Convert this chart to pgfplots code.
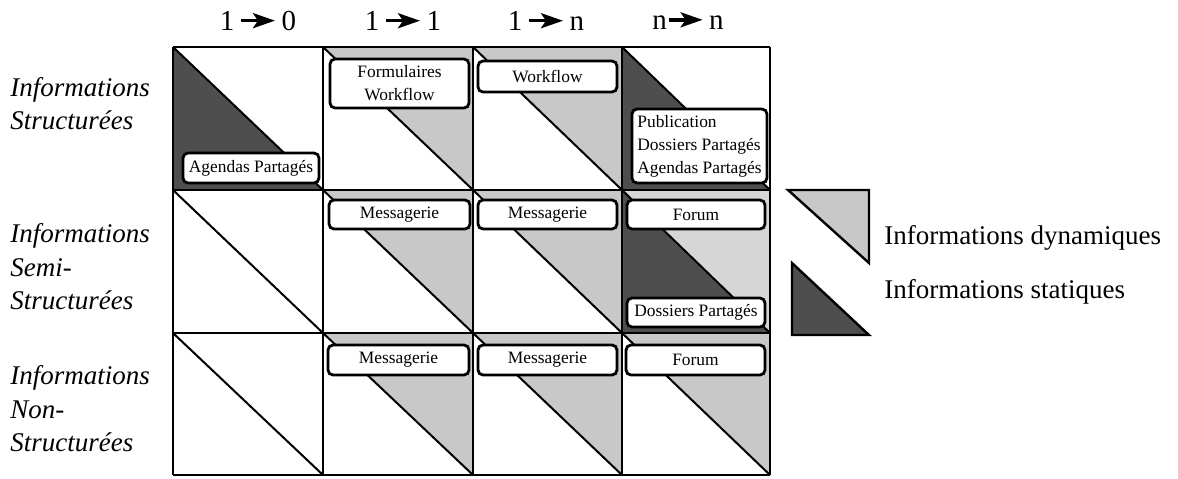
\documentclass[border=0pt]{standalone}
\usepackage{pgfplots}
\pgfplotsset{compat=1.18}
\usepackage{fontspec}
\setmainfont{Liberation Serif}
\usetikzlibrary{arrows.meta}
\definecolor{lightg}{RGB}{200,200,200}
\definecolor{lightg2}{RGB}{214,214,214}
\definecolor{darkg}{RGB}{78,78,78}
\newcommand{\arr}{\tikz[baseline=-0.34em]\draw[line width=1.7pt,-{Stealth[length=11pt,width=7.5pt,inset=2.5pt]}] (0,0)--(17pt,0);}
\tikzset{box/.style={draw, line width=1.4pt, rounded corners=2.5pt, fill=white, inner sep=0pt,
     font=\fontsize{8.7}{11.5}\selectfont, align=center}}
\begin{document}
\begin{tikzpicture}
\begin{axis}[
  scale only axis, width=589pt, height=239pt,
  xmin=0, xmax=1178, ymin=0, ymax=478, y dir=reverse,
  hide axis, clip=false, unbounded coords=jump,
]
\path (axis cs:0,0) rectangle (axis cs:1178,478);
% dynamic (upper-right) triangles
\addplot[fill=lightg, draw=none] coordinates {(323,47) (473,47) (473,190)} -- cycle;
\addplot[fill=lightg, draw=none] coordinates {(473,47) (622,47) (622,190)} -- cycle;
\addplot[fill=lightg, draw=none] coordinates {(323,190) (473,190) (473,333)} -- cycle;
\addplot[fill=lightg, draw=none] coordinates {(473,190) (622,190) (622,333)} -- cycle;
\addplot[fill=lightg2, draw=none] coordinates {(622,190) (770,190) (770,333)} -- cycle;
\addplot[fill=lightg, draw=none] coordinates {(323,333) (473,333) (473,475)} -- cycle;
\addplot[fill=lightg, draw=none] coordinates {(473,333) (622,333) (622,475)} -- cycle;
\addplot[fill=lightg, draw=none] coordinates {(622,333) (770,333) (770,475)} -- cycle;
% static (lower-left) triangles
\addplot[fill=darkg, draw=none] coordinates {(173,47) (173,190) (323,190)} -- cycle;
\addplot[fill=darkg, draw=none] coordinates {(622,47) (622,190) (770,190)} -- cycle;
\addplot[fill=darkg, draw=none] coordinates {(622,190) (622,333) (770,333)} -- cycle;
% grid
\addplot[black, line width=1pt] coordinates {
 (173,47) (770,47) (nan,nan) (173,190) (770,190) (nan,nan)
 (173,333) (770,333) (nan,nan) (173,475) (770,475) (nan,nan)
 (173,47) (173,475) (nan,nan) (323,47) (323,475) (nan,nan)
 (473,47) (473,475) (nan,nan) (622,47) (622,475) (nan,nan)
 (770,47) (770,475)};
% diagonals
\addplot[black, line width=1pt] coordinates {
 (173,47) (323,190) (nan,nan) (323,47) (473,190) (nan,nan)
 (473,47) (622,190) (nan,nan) (622,47) (770,190) (nan,nan)
 (173,190) (323,333) (nan,nan) (323,190) (473,333) (nan,nan)
 (473,190) (622,333) (nan,nan) (622,190) (770,333) (nan,nan)
 (173,333) (323,475) (nan,nan) (323,333) (473,475) (nan,nan)
 (473,333) (622,475) (nan,nan) (622,333) (770,475)};
% legend triangles
\addplot[fill=lightg, draw=black, line width=1.2pt] coordinates {(788,190) (869,190) (869,263)} -- cycle;
\addplot[fill=darkg, draw=black, line width=1.2pt] coordinates {(792,263) (792,335) (869,335)} -- cycle;
% label boxes
\node[box, minimum width=68pt, minimum height=15pt] at (axis cs:251,168) {Agendas Partagés};
\node[box, minimum width=69.5pt, minimum height=24.5pt] at (axis cs:399.5,83.5) {Formulaires\\Workflow};
\node[box, minimum width=69.5pt, minimum height=15.5pt] at (axis cs:547.5,76.5) {Workflow};
\node[box, minimum width=67.5pt, minimum height=37pt, align=left] at (axis cs:699.5,146) {Publication\\Dossiers Partagés\\Agendas Partagés};
\node[box, minimum width=70.5pt, minimum height=14.5pt] at (axis cs:399.5,214.5) {Messagerie};
\node[box, minimum width=69.5pt, minimum height=14.5pt] at (axis cs:547.5,214.5) {Messagerie};
\node[box, minimum width=69pt, minimum height=14.5pt] at (axis cs:696,214.5) {Forum};
\node[box, minimum width=69pt, minimum height=14.5pt] at (axis cs:696,312.5) {Dossiers Partagés};
\node[box, minimum width=70.5pt, minimum height=15pt] at (axis cs:398.5,360) {Messagerie};
\node[box, minimum width=69.5pt, minimum height=15pt] at (axis cs:547.5,360) {Messagerie};
\node[box, minimum width=69.5pt, minimum height=15pt] at (axis cs:695.5,360) {Forum};
% column headers
\node[font=\fontsize{14.5}{16}\selectfont] at (axis cs:258,21) {1\,\arr\,0};
\node[font=\fontsize{14.5}{16}\selectfont] at (axis cs:403,21) {1\,\arr\,1};
\node[font=\fontsize{14.5}{16}\selectfont] at (axis cs:546,21) {1\,\arr\,n};
\node[font=\fontsize{14.5}{16}\selectfont] at (axis cs:688,21) {n\arr\,n};
% row headers
\node[anchor=west, align=left, inner sep=0pt, font=\fontsize{13.5}{16.5}\selectfont\itshape] at (axis cs:10,104) {Informations\\Structurées};
\node[anchor=west, align=left, inner sep=0pt, font=\fontsize{13.5}{16.8}\selectfont\itshape] at (axis cs:10,267) {Informations\\Semi-\\Structurées};
\node[anchor=west, align=left, inner sep=0pt, font=\fontsize{13.5}{16.8}\selectfont\itshape] at (axis cs:10,409) {Informations\\Non-\\Structurées};
% legend text
\node[anchor=west, inner sep=0pt, font=\fontsize{13.5}{16}\selectfont] at (axis cs:884,238) {Informations dynamiques};
\node[anchor=west, inner sep=0pt, font=\fontsize{13.5}{16}\selectfont] at (axis cs:884,292) {Informations statiques};
\end{axis}
\end{tikzpicture}
\end{document}
